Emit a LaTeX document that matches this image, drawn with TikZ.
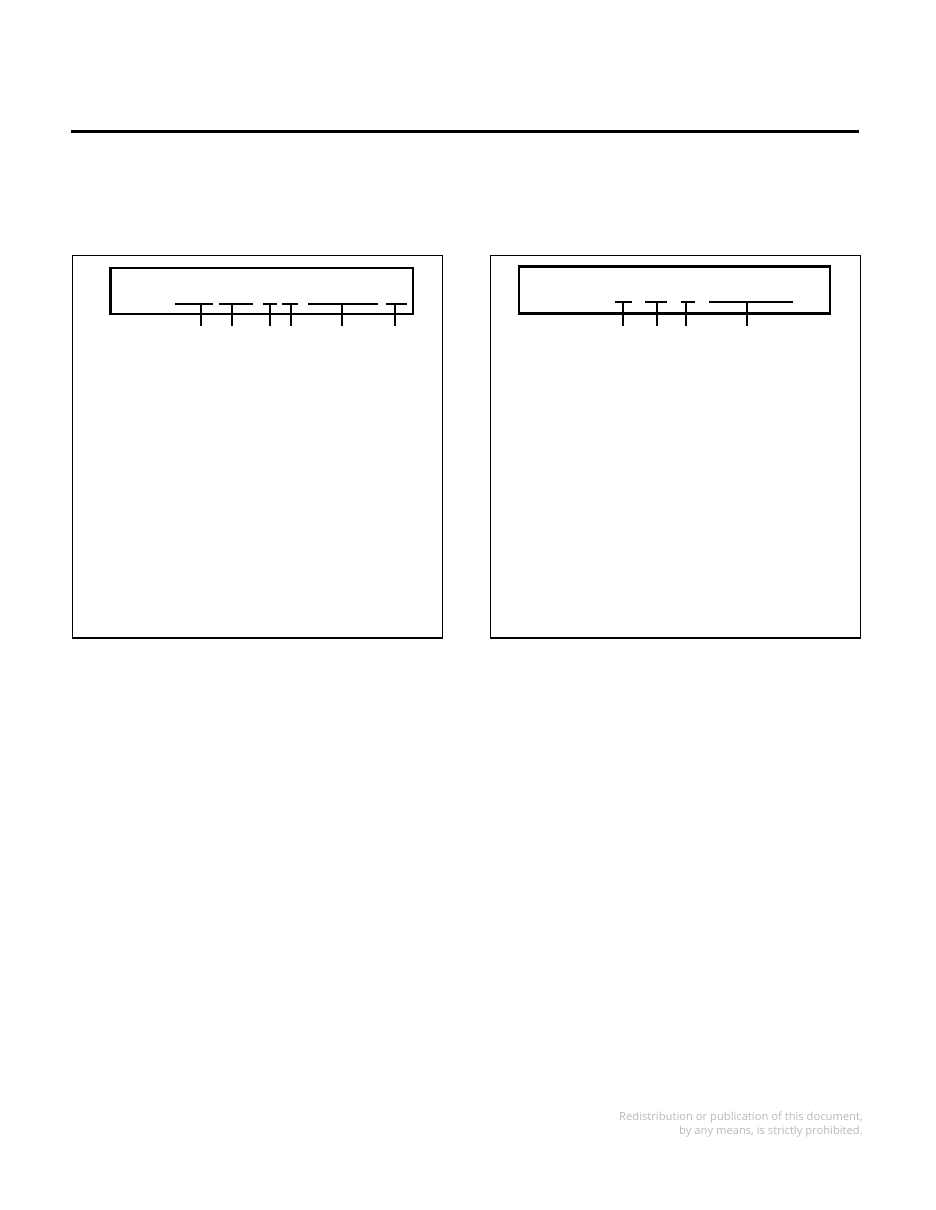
\documentclass[tikz,border=0pt]{standalone}
\usepackage{fontspec}
\setsansfont{Open Sans}
\begin{document}
\begin{tikzpicture}[x=1pt,y=-1pt,
    panel/.style={draw,line width=1.3pt},
    display/.style={draw,line width=2.6pt},
    tickbar/.style={line width=1.1pt}]
    \useasboundingbox (0,0) rectangle (935,1210);
    % top rule
    \draw[line width=2.8pt] (71,131.5) -- (859,131.5);
    % left panel
    \draw[panel] (72.5,255.5) rectangle (442.5,638);
    \draw[display] (110.5,268) rectangle (413,314);
    \foreach \l/\r/\s in {175/213/201,219/253/232,263/277/270,282/298/291,308/378/342,386/407/395}
        \draw[tickbar] (\l,304) -- (\r,304) (\s,304) -- (\s,326);
    % right panel
    \draw[panel] (490.5,255.5) rectangle (860.5,638);
    \draw[display] (519,266.5) rectangle (830,313.5);
    \foreach \l/\r/\s in {615/632/623,645/667/657,681/695/686,709/793/747}
        \draw[tickbar] (\l,302) -- (\r,302) (\s,302) -- (\s,326);
    % footer note
    \node[anchor=north east,align=right,inner sep=0pt,text=black!28,
          font=\sffamily\fontsize{11.2}{14.5}\selectfont] (note) at (863,1111.5)
        {Redistribution or publication of this document,\\by any means, is strictly prohibited.};
\end{tikzpicture}
\end{document}
